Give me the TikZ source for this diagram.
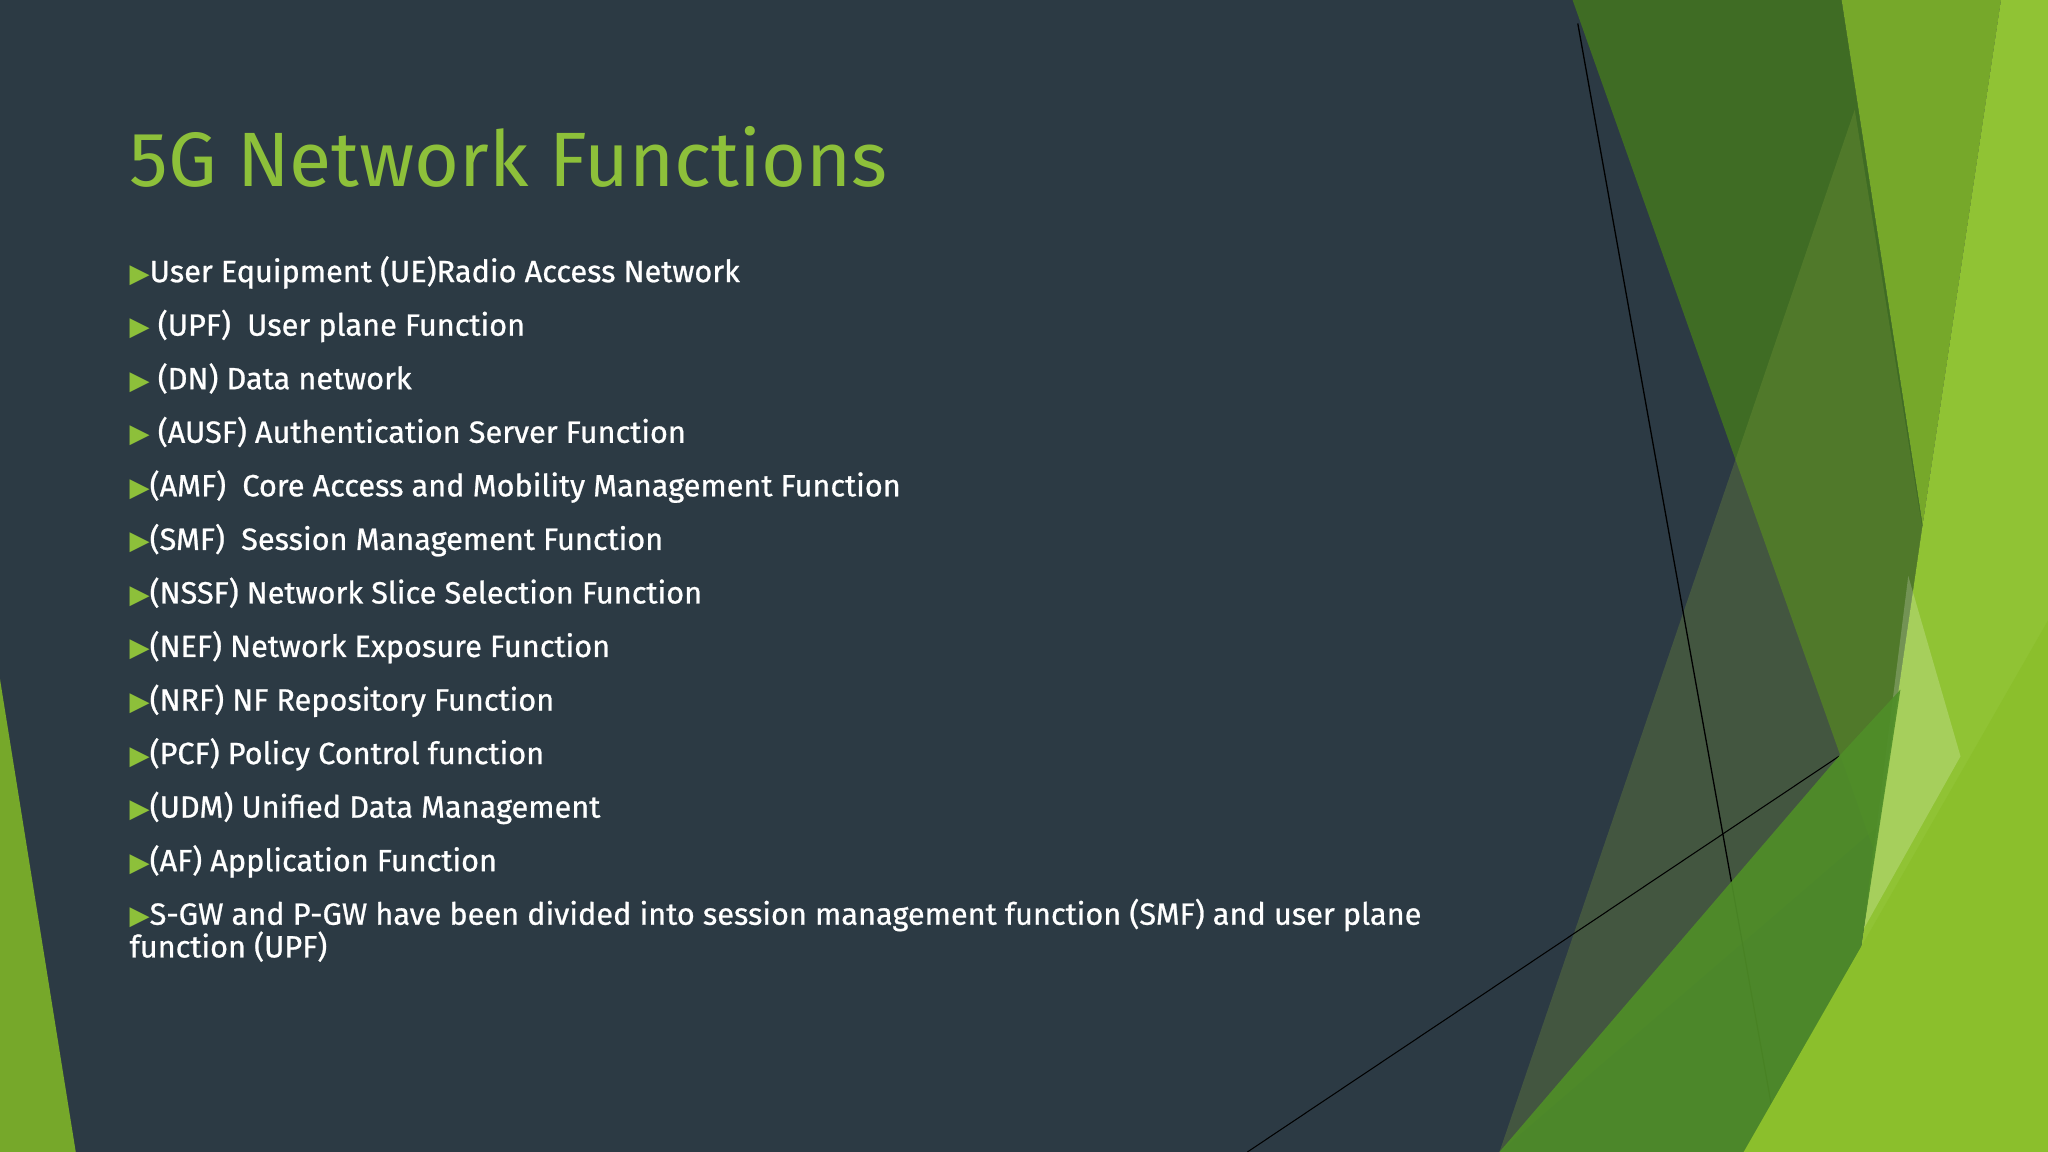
\documentclass[tikz,border=0pt]{standalone}
\usepackage{fontspec}
\setmainfont{Fira Sans}[FakeBold=0.8]
\newfontfamily\titlefont{Fira Sans}
\newfontfamily\dv{DejaVu Sans}
\definecolor{bg}{HTML}{2C3A44}
\definecolor{tgreen}{HTML}{8DC03A}
\definecolor{dkg}{HTML}{3F6C24}
\definecolor{mdg}{HTML}{76A82A}
\definecolor{brg}{HTML}{90C334}
\definecolor{brg2}{HTML}{8BBF2C}
\definecolor{slab}{HTML}{4F8E28}
\definecolor{oliv}{HTML}{7A9A3A}
\newcommand{\bul}{{\color{tgreen}\fontsize{20}{20}\dv ▶}}
\tikzset{item/.style={anchor=base west,text=white,inner sep=0pt,font=\fontsize{23.5}{28}\selectfont}}
\begin{document}
\begin{tikzpicture}[x=1pt,y=-1pt]
\fill[bg] (0,0) rectangle (1568,882);
\useasboundingbox (0,0) rectangle (1568,882);
% right decoration
\fill[dkg] (1204,0) -- (1410,0) -- (1472,402) -- (1427,711) -- (1434,649) -- cycle;
\fill[mdg] (1410,0) -- (1532,0) -- (1472,402) -- cycle;
\fill[oliv,opacity=0.3] (1420,84) -- (1500,579) -- (1148,882) -- cycle;
\fill[brg] (1532,0) -- (1568,0) -- (1568,882) -- (1402,882) -- (1427,711) -- (1472,402) -- cycle;
\fill[white,opacity=0.2] (1461,441) -- (1501,579) -- (1427,711) -- cycle;
\coordinate (l1a) at (1208,18); \coordinate (l1b) at (1356,845);
\coordinate (l2a) at (955,882); \coordinate (l2b) at (1408,579);
\draw[black,line width=1pt] (l1a) -- (l1b);
\draw[black,line width=0.8pt] (l2a) -- (l2b);
\fill[slab,opacity=0.92] (1148,882) -- (1408,579) -- (1455,528) -- (1427,711) -- (1402,882) -- cycle;
\fill[brg2] (1335,882) -- (1568,475) -- (1568,882) -- cycle;
% left triangle
\fill[mdg] (0,520) -- (58,882) -- (0,882) -- cycle;
% title
\node[anchor=base west,text=tgreen,inner sep=0pt,font=\titlefont\fontsize{59}{64}\selectfont] (title) at (99,143) {5G Network Functions};
\node[item] (i1) at (99,216) {\bul User Equipment (UE)Radio Access Network};
\node[item] (i2) at (99,257) {\bul\ (UPF)\ \ User plane Function};
\node[item] (i3) at (99,298) {\bul\ (DN) Data network};
\node[item] (i4) at (99,339) {\bul\ (AUSF) Authentication Server Function};
\node[item] (i5) at (99,380) {\bul(AMF)\ \ Core Access and Mobility Management Function};
\node[item] (i6) at (99,421) {\bul(SMF)\ \ Session Management Function};
\node[item] (i7) at (99,462) {\bul(NSSF) Network Slice Selection Function};
\node[item] (i8) at (99,503) {\bul(NEF) Network Exposure Function};
\node[item] (i9) at (99,544) {\bul(NRF) NF Repository Function};
\node[item] (i10) at (99,585) {\bul(PCF) Policy Control function};
\node[item] (i11) at (99,626) {\bul(UDM) Unified Data Management};
\node[item] (i12) at (99,667) {\bul(AF) Application Function};
\node[item] (i13) at (99,708) {\bul S-GW and P-GW have been divided into session management function (SMF) and user plane};
\node[item] (i14) at (99,733) {function (UPF)};
\end{tikzpicture}
\end{document}
